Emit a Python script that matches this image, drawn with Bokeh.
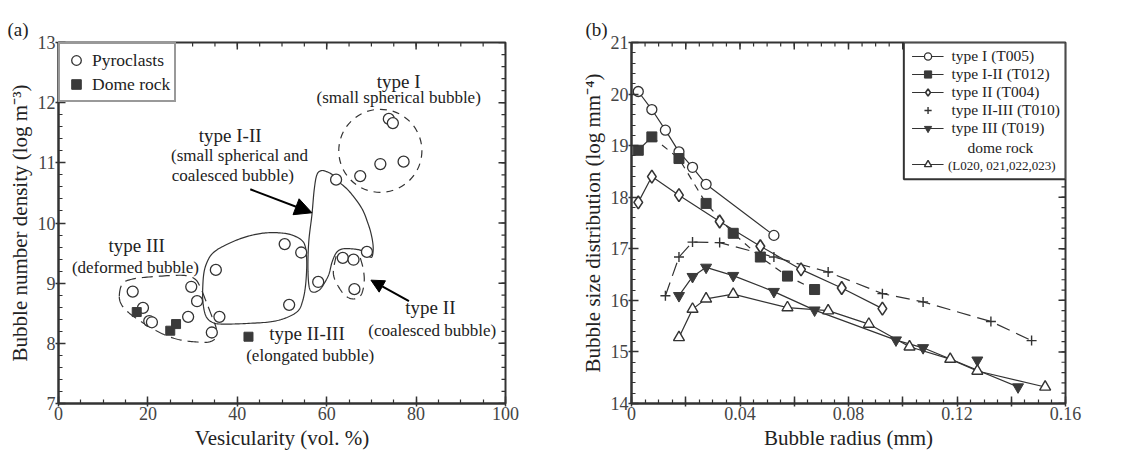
import numpy as np
from bokeh.plotting import figure
from bokeh.layouts import row
from bokeh.models import (Range1d, FixedTicker, Legend, LegendItem, Label,
                          Arrow, NormalHead)
from bokeh.embed import file_html
from bokeh.resources import INLINE

FONT = "Liberation Serif"
INK = "#333333"

# ---------------- panel (a) data ----------------
pyro_vesicularity = [16.6, 18.9, 20.3, 20.9, 29.0, 29.7, 31.0, 34.3, 35.2, 36.0, 50.6, 51.6,
                     54.3, 58.1, 62.1, 63.6, 66.0, 66.2, 67.5, 69.0, 72.0, 73.9, 74.8, 77.2]
pyro_density = [8.86, 8.59, 8.37, 8.35, 8.44, 8.94, 8.70, 8.18, 9.22, 8.44, 9.65, 8.64,
                9.51, 9.02, 10.72, 9.42, 9.39, 8.90, 10.78, 9.52, 10.98, 11.73, 11.66, 11.02]
dome_vesicularity = [17.5, 25.0, 26.3, 42.5]
dome_density = [8.52, 8.21, 8.32, 8.11]

# hand-drawn group outlines (data coordinates)
typeI_center = (72.0, 11.2)
typeI_size = (18.6, 1.38)
typeIII_x = [13.6, 14.3, 16.7, 21.6, 27.8, 30.5, 31.8, 33.0, 34.3, 35.3, 35.0, 33.5, 31.5,
             28.5, 26.0, 23.5, 20.9, 18.1, 15.7, 14.2]
typeIII_y = [8.78, 8.99, 9.07, 9.11, 9.13, 9.07, 8.92, 8.70, 8.45, 8.24, 8.08, 8.02, 8.02,
             8.04, 8.08, 8.15, 8.25, 8.38, 8.51, 8.63]
typeII_III_x = [33.3, 34.4, 36.5, 40.7, 44.8, 48.3, 51.8, 54.3, 55.2, 55.5, 55.5, 55.2, 54.6,
                53.6, 51.1, 47.6, 42.1, 37.2, 34.7, 33.0, 32.3, 32.3, 32.6]
typeII_III_y = [9.36, 9.49, 9.60, 9.74, 9.82, 9.84, 9.81, 9.72, 9.61, 9.42, 9.20, 8.92, 8.70,
                8.54, 8.43, 8.36, 8.33, 8.32, 8.34, 8.45, 8.70, 8.98, 9.20]
typeI_II_x = [56.1, 55.8, 56.0, 56.7, 57.2, 57.8, 58.8, 60.1, 61.5, 62.8, 65.0, 67.8, 69.2,
              70.0, 70.4, 70.2, 69.6, 67.8, 65.7, 63.6, 62.2, 61.2, 60.5, 59.4, 58.4, 57.0]
typeI_II_y = [8.93, 9.26, 9.70, 10.14, 10.55, 10.80, 10.87, 10.85, 10.79, 10.68, 10.53, 10.25,
              10.00, 9.80, 9.60, 9.45, 9.44, 9.54, 9.57, 9.57, 9.51, 9.35, 9.15, 8.99, 8.89, 8.85]
typeII_x = [62.1, 61.5, 62.9, 64.6, 66.4, 67.8, 68.4, 68.1, 67.3]
typeII_y = [9.45, 9.15, 8.91, 8.77, 8.74, 8.82, 9.04, 9.26, 9.47]

# annotation texts (a)
ann_titles = ["type I", "type I-II", "type III", "type II-III", "type II"]
ann_title_x = [76.1, 38.4, 17.5, 55.6, 83.2]
ann_title_y = [12.36, 11.45, 9.63, 8.17, 8.59]
ann_sub = ["(small spherical bubble)", "(small spherical and", "coalesced bubble)",
           "(deformed bubble)", "(elongated bubble)", "(coalesced bubble)"]
ann_sub_x = [76.1, 40.5, 39.0, 17.2, 56.3, 83.6]
ann_sub_y = [12.08, 11.13, 10.79, 9.26, 7.80, 8.21]
arrow_start = [(42.9, 10.56), (78.4, 8.70)]
arrow_end = [(56.7, 10.17), (69.9, 9.05)]
arrow_head = [17, 13]

# ---------------- panel (b) data ----------------
r_t1 = [0.0025, 0.0075, 0.0125, 0.0175, 0.0225, 0.0275, 0.0525]
n_t1 = [20.05, 19.70, 19.30, 18.88, 18.58, 18.25, 17.26]
r_t12 = [0.0025, 0.0075, 0.0175, 0.0275, 0.0375, 0.0475, 0.0575, 0.0675]
n_t12 = [18.91, 19.17, 18.75, 17.88, 17.30, 16.84, 16.47, 16.21]
r_t2 = [0.0025, 0.0075, 0.0175, 0.0325, 0.0475, 0.0625, 0.0775, 0.0925]
n_t2 = [17.90, 18.40, 18.04, 17.53, 17.05, 16.60, 16.24, 15.84]
r_t23 = [0.0125, 0.0175, 0.0225, 0.0325, 0.0525, 0.0725, 0.0925, 0.1075, 0.1325, 0.1475]
n_t23 = [16.09, 16.84, 17.13, 17.12, 16.84, 16.55, 16.13, 15.97, 15.59, 15.22]
r_t3 = [0.0175, 0.0225, 0.0275, 0.0375, 0.0525, 0.0675, 0.0975, 0.1075, 0.1275, 0.1425]
n_t3 = [16.09, 16.46, 16.64, 16.48, 16.17, 15.81, 15.23, 15.08, 14.84, 14.32]
t3_on_trend = [True, True, True, True, True, True, True, True, False, True]
r_dome = [0.0175, 0.0225, 0.0275, 0.0375, 0.0575, 0.0725, 0.0875, 0.1025, 0.1175, 0.1275, 0.1525]
n_dome = [15.28, 15.83, 16.03, 16.12, 15.86, 15.80, 15.54, 15.10, 14.86, 14.63, 14.32]

legend_b_labels = ["type I (T005)", "type I-II (T012)", "type II (T004)",
                   "type II-III (T010)", "type III (T019)"]
dome_label = "dome rock"
dome_sub_label = "(L020, 021,022,023)"
dome_label_pos = (0.136, 18.97)
dome_sub_label_pos = (0.1365, 18.62)
legend_b_box = dict(left=0.1004, right=0.16, top=21.0, bottom=18.35)

# ticks
xa_major = list(range(0, 101, 20))
xa_minor = list(range(0, 101, 5))
ya_major = list(range(7, 14))
ya_minor = [round(7 + 0.2 * i, 1) for i in range(31)]
xb_major = [round(0.02 * i, 2) for i in range(9)]
xb_minor = [round(0.005 * i, 3) for i in range(33)]
yb_major = list(range(14, 22))
yb_minor = [round(14 + 0.2 * i, 1) for i in range(36)]

H = 460
TOP, BOTTOM = 42, 57


def smooth(xs, ys, closed=True, n=12):
    P = np.column_stack([xs, ys]).astype(float)
    if closed:
        P = np.vstack([P[-1], P, P[0], P[1]])
    else:
        P = np.vstack([P[0], P, P[-1]])
    out = []
    for i in range(1, len(P) - 2):
        p0, p1, p2, p3 = P[i - 1], P[i], P[i + 1], P[i + 2]
        for t in np.linspace(0, 1, n, endpoint=False):
            t2, t3 = t * t, t * t * t
            out.append(0.5 * (2 * p1 + (-p0 + p2) * t + (2 * p0 - 5 * p1 + 4 * p2 - p3) * t2
                              + (-p0 + 3 * p1 - 3 * p2 + p3) * t3))
    out.append(P[-2])
    out = np.array(out)
    return out[:, 0], out[:, 1]


def style_axis(ax, ticker, overrides=None):
    ax.ticker = ticker
    ax.axis_line_color = INK
    ax.axis_line_width = 2
    ax.major_tick_line_color = INK
    ax.major_tick_line_width = 1.5
    ax.minor_tick_line_color = INK
    ax.minor_tick_line_width = 1.2
    ax.major_tick_in = 7
    ax.major_tick_out = 3
    ax.minor_tick_in = 4
    ax.minor_tick_out = 0
    ax.major_label_text_font = FONT
    ax.major_label_text_font_size = "18px"
    ax.major_label_text_color = "#444444"
    ax.major_label_standoff = 0
    ax.axis_label_text_font = FONT
    ax.axis_label_text_font_size = "21px"
    ax.axis_label_text_font_style = "normal"
    ax.axis_label_text_color = "#222222"
    ax.axis_label_standoff = 3
    if overrides is not None:
        ax.major_label_overrides = overrides


def make_fig(width, xr, yr, left, right, title, title_offset):
    p = figure(width=width, height=H, x_range=Range1d(*xr), y_range=Range1d(*yr),
               output_backend="svg", toolbar_location=None, min_border_left=left,
               min_border_right=right, min_border_top=TOP, min_border_bottom=BOTTOM,
               title=title)
    p.xgrid.visible = False
    p.ygrid.visible = False
    p.outline_line_color = INK
    p.outline_line_width = 2
    p.background_fill_color = "white"
    p.border_fill_color = "white"
    p.title.text_font = FONT
    p.title.text_font_size = "19px"
    p.title.text_font_style = "normal"
    p.title.text_color = "#222222"
    p.title.align = "left"
    p.title.offset = title_offset
    p.title.standoff = 6
    return p


def mirror_ticks(p, xr, yr, frame_w, frame_h, x_major, x_minor, y_major, y_minor):
    """inward ticks on the top and right frame edges"""
    px_x = (xr[1] - xr[0]) / frame_w   # data units per pixel
    px_y = (yr[1] - yr[0]) / frame_h
    for ticks, ln, lw in ((x_major, 7, 1.5), (x_minor, 4, 1.2)):
        p.segment(x0=ticks, x1=ticks, y0=[yr[1]] * len(ticks),
                  y1=[yr[1] - ln * px_y] * len(ticks), line_color=INK, line_width=lw)
    for ticks, ln, lw in ((y_major, 7, 1.5), (y_minor, 4, 1.2)):
        p.segment(x0=[xr[1]] * len(ticks), x1=[xr[1] - ln * px_x] * len(ticks),
                  y0=ticks, y1=ticks, line_color=INK, line_width=lw)


# ================= panel (a) =================
XA, YA = (0, 100), (7, 13)
WA, LA, RA = 565, 58, 60
pa = make_fig(WA, XA, YA, LA, RA, "(a)", -51)
style_axis(pa.xaxis[0], FixedTicker(ticks=xa_major, minor_ticks=xa_minor))
style_axis(pa.yaxis[0], FixedTicker(ticks=ya_major, minor_ticks=ya_minor))
pa.xaxis[0].axis_label = "Vesicularity (vol. %)"
pa.yaxis[0].axis_label = "Bubble number density (log m\u207B\u00B3)"
mirror_ticks(pa, XA, YA, WA - LA - RA, H - TOP - BOTTOM, xa_major, xa_minor, ya_major, ya_minor)

# outlines
pa.ellipse(x=[typeI_center[0]], y=[typeI_center[1]], width=[typeI_size[0]], height=[typeI_size[1]],
           fill_alpha=0, line_color=INK, line_width=1.2, line_dash="7 6")
sx, sy = smooth(typeIII_x, typeIII_y)
pa.line(sx, sy, line_color=INK, line_width=1.2, line_dash="11 6")
sx, sy = smooth(typeII_III_x, typeII_III_y)
pa.line(sx, sy, line_color=INK, line_width=1.2)
sx, sy = smooth(typeI_II_x, typeI_II_y)
pa.line(sx, sy, line_color=INK, line_width=1.2)
sx, sy = smooth(typeII_x, typeII_y, closed=False)
pa.line(sx, sy, line_color=INK, line_width=1.2, line_dash="9 6")

r_pyro = pa.scatter(pyro_vesicularity, pyro_density, marker="circle", size=11,
                    fill_color="white", line_color=INK, line_width=1.3)
r_dome_a = pa.scatter(dome_vesicularity, dome_density, marker="square", size=9,
                      fill_color="#3a3a3a", line_color="#3a3a3a", line_width=1)

for (x0, y0), (x1, y1), hs in zip(arrow_start, arrow_end, arrow_head):
    pa.add_layout(Arrow(end=NormalHead(size=hs, fill_color="black", line_color="black"),
                        x_start=x0, y_start=y0, x_end=x1, y_end=y1,
                        line_color="black", line_width=2))

for t, x, y in zip(ann_titles, ann_title_x, ann_title_y):
    pa.add_layout(Label(x=x, y=y, text=t, text_font=FONT, text_font_size="19px",
                        text_align="center", text_baseline="middle", text_color="#222222"))
for t, x, y in zip(ann_sub, ann_sub_x, ann_sub_y):
    pa.add_layout(Label(x=x, y=y, text=t, text_font=FONT, text_font_size="17px",
                        text_align="center", text_baseline="middle", text_color="#222222"))

leg_a = Legend(items=[LegendItem(label="Pyroclasts", renderers=[r_pyro]),
                      LegendItem(label="Dome rock", renderers=[r_dome_a])],
               location="top_left", margin=0, padding=4, spacing=0,
               glyph_width=24, glyph_height=24, label_height=22, label_standoff=4,
               label_text_font=FONT, label_text_font_size="17.5px", label_text_color="#222222",
               border_line_color=INK, border_line_width=2, background_fill_alpha=1)
pa.add_layout(leg_a)

# ================= panel (b) =================
XB, YB = (0, 0.16), (14, 21)
WB, LB, RB = 568, 66, 68
pb = make_fig(WB, XB, YB, LB, RB, "(b)", -46)
xb_labels = {v: ("0" if v == 0 else ("%.2f" % v if i % 2 == 0 else ""))
             for i, v in enumerate(xb_major)}
style_axis(pb.xaxis[0], FixedTicker(ticks=xb_major, minor_ticks=xb_minor), overrides=xb_labels)
style_axis(pb.yaxis[0], FixedTicker(ticks=yb_major, minor_ticks=yb_minor))
pb.xaxis[0].axis_label = "Bubble radius (mm)"
pb.yaxis[0].axis_label = "Bubble size distribution (log mm\u207B\u2074)"
mirror_ticks(pb, XB, YB, WB - LB - RB, H - TOP - BOTTOM, xb_major, xb_minor, yb_major, yb_minor)

# legend frame (white box under the transparent legend)
pb.quad(left=[legend_b_box["left"]], right=[legend_b_box["right"]],
        top=[legend_b_box["top"]], bottom=[legend_b_box["bottom"]],
        fill_color="white", line_color=INK, line_width=2)

LW = 1.2
l1 = pb.line(r_t1, n_t1, line_color=INK, line_width=LW)
l12a = pb.line(r_t12[:2], n_t12[:2], line_color=INK, line_width=LW)
pb.line(r_t12[1:], n_t12[1:], line_color=INK, line_width=LW, line_dash="7 6")
l2 = pb.line(r_t2, n_t2, line_color=INK, line_width=LW)
pb.line(r_t23, n_t23, line_color=INK, line_width=LW, line_dash="14 7")
l23 = pb.line([], [], line_color=INK, line_width=LW)
r3_line = [r for r, k in zip(r_t3, t3_on_trend) if k]
n3_line = [n for n, k in zip(n_t3, t3_on_trend) if k]
l3 = pb.line(r3_line, n3_line, line_color=INK, line_width=LW)
ld = pb.line(r_dome, n_dome, line_color=INK, line_width=LW)

s1 = pb.scatter(r_t1, n_t1, marker="circle", size=10, fill_color="white", line_color=INK, line_width=1.3)
s12 = pb.scatter(r_t12, n_t12, marker="square", size=10, fill_color="#3a3a3a", line_color="#3a3a3a")
s2 = pb.scatter(r_t2, n_t2, marker="diamond", size=13, fill_color="white", line_color=INK, line_width=1.6)
s23 = pb.scatter(r_t23, n_t23, marker="cross", size=10, line_color=INK, line_width=1.4)
s3 = pb.scatter(r_t3, n_t3, marker="inverted_triangle", size=11, fill_color="#3a3a3a", line_color="#3a3a3a")
sd = pb.scatter(r_dome, n_dome, marker="triangle", size=11, fill_color="white", line_color=INK, line_width=1.4)

leg_b = Legend(items=[LegendItem(label=legend_b_labels[0], renderers=[l1, s1]),
                      LegendItem(label=legend_b_labels[1], renderers=[l12a, s12]),
                      LegendItem(label=legend_b_labels[2], renderers=[l2, s2]),
                      LegendItem(label=legend_b_labels[3], renderers=[l23, s23]),
                      LegendItem(label=legend_b_labels[4], renderers=[l3, s3]),
                      LegendItem(label=" ", renderers=[]),
                      LegendItem(label=" ", renderers=[ld, sd])],
               location="top_right", margin=0, padding=5, spacing=0,
               glyph_width=32, glyph_height=18, label_height=17, label_standoff=8,
               label_text_font=FONT, label_text_font_size="15.5px", label_text_color="#222222",
               border_line_alpha=0, background_fill_alpha=0)
pb.add_layout(leg_b)
pb.add_layout(Label(x=dome_label_pos[0], y=dome_label_pos[1], text=dome_label,
                    text_font=FONT, text_font_size="15.5px", text_align="center",
                    text_baseline="middle", text_color="#222222"))
pb.add_layout(Label(x=dome_sub_label_pos[0], y=dome_sub_label_pos[1], text=dome_sub_label,
                    text_font=FONT, text_font_size="13px", text_align="center",
                    text_baseline="middle", text_color="#222222"))

layout = row(pa, pb)
open("out.html", "w").write(file_html(layout, INLINE))
